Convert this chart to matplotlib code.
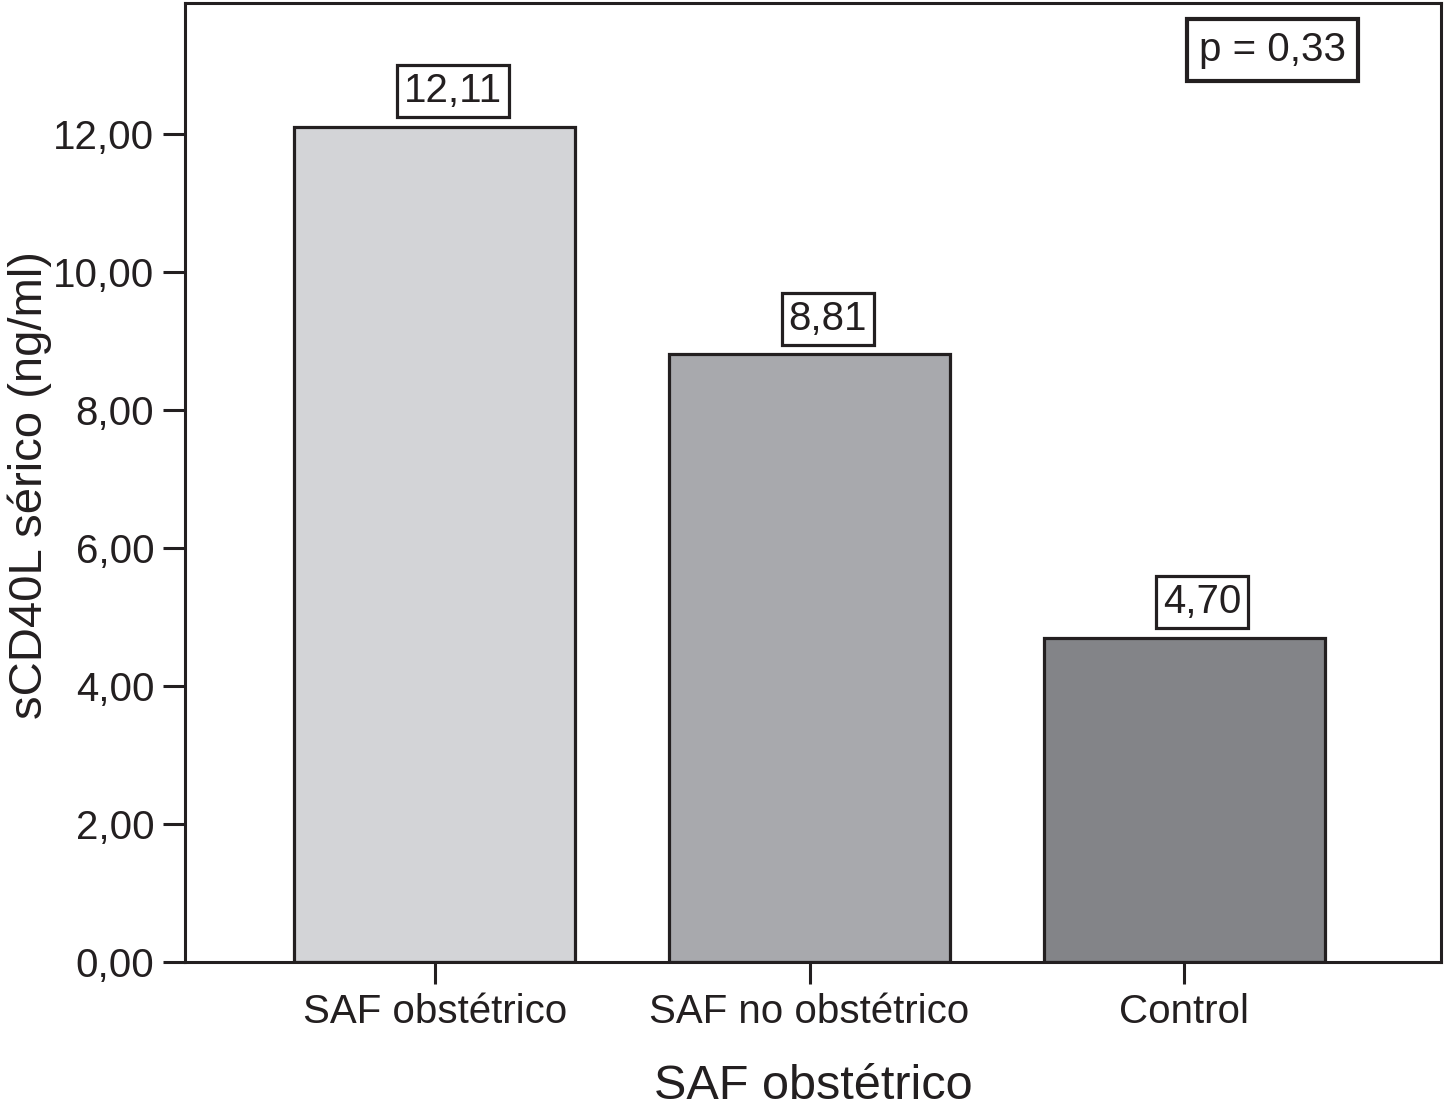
import matplotlib
matplotlib.use("Agg")
import matplotlib.pyplot as plt
from matplotlib.ticker import FuncFormatter

categorias = ["SAF obstétrico", "SAF no obstétrico", "Control"]
valores = [12.11, 8.81, 4.70]
colores = ["#d3d4d7", "#a8a9ad", "#838488"]
p_valor = "p = 0,33"

plt.rcParams["font.family"] = ["Liberation Sans", "DejaVu Sans"]
negro = "#231f20"

fig = plt.figure(figsize=(14.44, 11.16), dpi=100)
ax = fig.add_axes([0.128, 0.138, 0.870, 0.859])

x = list(range(len(categorias)))
barras = ax.bar(x, valores, width=0.75, color=colores, edgecolor=negro, linewidth=2.3)

# etiquetas de valor encima de cada barra (algo desplazadas a la derecha, como en el original)
for xi, v in zip(x, valores):
    ax.annotate(f"{v:.2f}".replace(".", ","), xy=(xi, v), xytext=(13, 12),
                textcoords="offset points", ha="center", va="bottom",
                fontsize=29, color=negro,
                bbox=dict(boxstyle="square,pad=0.17", facecolor="white",
                          edgecolor=negro, linewidth=2.3))

ax.set_xlim(-0.667, 2.685)
ax.set_ylim(0, 13.9)
ax.set_yticks([0, 2, 4, 6, 8, 10, 12])
ax.yaxis.set_major_formatter(FuncFormatter(lambda v, pos: f"{v:.2f}".replace(".", ",")))
ax.set_xticks(x)
ax.set_xticklabels(categorias)

ax.tick_params(axis="both", length=16, width=2.2, color=negro, labelsize=29,
               labelcolor=negro, pad=6)
for lado in ax.spines.values():
    lado.set_linewidth(2.2)
    lado.set_color(negro)

ax.set_xlabel("SAF obstétrico", fontsize=35, color=negro, labelpad=24)
ax.set_ylabel("sCD40L sérico (ng/ml)", fontsize=34, color=negro)
ax.yaxis.set_label_coords(-0.106, 0.497)

ax.text(0.866, 0.951, p_valor, transform=ax.transAxes, fontsize=29, color=negro,
        ha="center", va="center",
        bbox=dict(boxstyle="square,pad=0.3", facecolor="white",
                  edgecolor=negro, linewidth=3))

fig.savefig("out.png", dpi=100)
